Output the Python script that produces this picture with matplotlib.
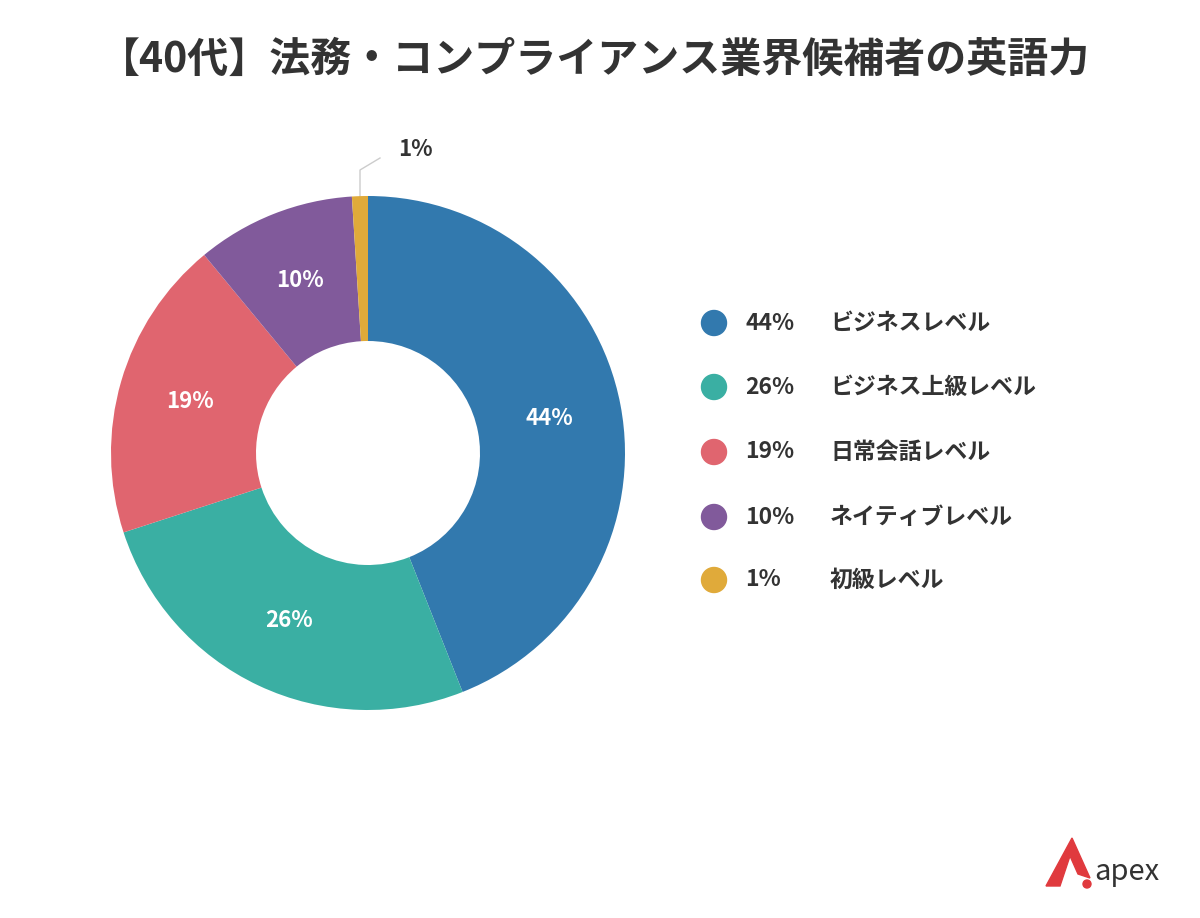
import matplotlib
matplotlib.use("Agg")
import matplotlib.pyplot as plt
from matplotlib.patches import Polygon, Circle
import numpy as np

plt.rcParams["font.family"] = "Noto Sans CJK JP"

TITLE = "【40代】法務・コンプライアンス業界候補者の英語力"
LABELS = ["ビジネスレベル", "ビジネス上級レベル", "日常会話レベル", "ネイティブレベル", "初級レベル"]
VALUES = [44, 26, 19, 10, 1]
COLORS = ["#3279ae", "#3aafa3", "#e0656f", "#815a9b", "#e0aa3a"]
DARK = "#333333"

W, H = 1200, 918
fig = plt.figure(figsize=(W / 100, H / 100), dpi=100)
bg = fig.add_axes([0, 0, 1, 1])
bg.set_xlim(0, W)
bg.set_ylim(H, 0)
bg.axis("off")

bg.text(W / 2 - 5, 60, TITLE, ha="center", va="center", fontsize=29.5,
        fontweight="bold", color=DARK)

# donut
cx, cy, r = 368, 453, 257
ax = fig.add_axes([(cx - r) / W, (H - cy - r) / H, 2 * r / W, 2 * r / H])
wedges, _ = ax.pie(VALUES, colors=COLORS, startangle=90, counterclock=False,
                   radius=1, wedgeprops=dict(width=1 - 112 / 257, linewidth=0))
ax.set_xlim(-1, 1)
ax.set_ylim(-1, 1)
ax.set_aspect("auto")
ax.axis("off")

ang = 90.0
for v in VALUES:
    mid = np.deg2rad(ang - v * 3.6 / 2)
    ang -= v * 3.6
    if v >= 5:
        rr = 0.72
        ax.text(rr * np.cos(mid), rr * np.sin(mid), f"{v}%", ha="center",
                va="center", color="white", fontsize=16, fontweight="bold")

# leader for small slice
bg.plot([360, 360, 380], [197, 170, 158], color="#cccccc", lw=1)
bg.text(398, 149, f"{VALUES[-1]}%", ha="left", va="center", fontsize=16,
        fontweight="bold", color=DARK)

# legend
ys = [323, 387, 452, 517, 580]
for y, v, lab, c in zip(ys, VALUES, LABELS, COLORS):
    bg.add_patch(Circle((714, y), 12.5, color=c))
    bg.text(745, y, f"{v}%", ha="left", va="center", fontsize=16.5,
            fontweight="bold", color=DARK)
    bg.text(830, y, lab, ha="left", va="center", fontsize=16.5,
            fontweight="bold", color=DARK)

# logo
bg.add_patch(Polygon([(1046, 886), (1072, 838), (1090, 878), (1078, 874), (1070, 856), (1060, 886)],
                     closed=True, color="#e03a3e"))
bg.add_patch(Circle((1087, 884), 4, color="#e03a3e"))
bg.text(1094, 872, "apex", ha="left", va="center", fontsize=21, color=DARK)

fig.savefig("out.png", dpi=100)
